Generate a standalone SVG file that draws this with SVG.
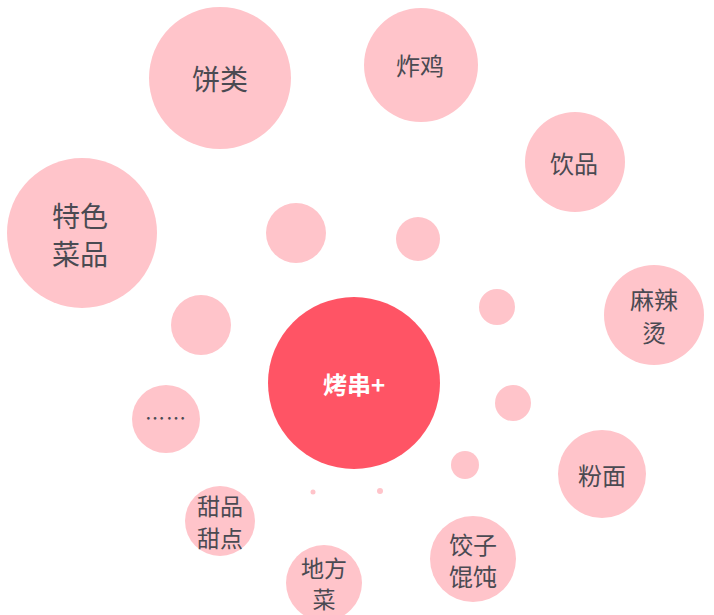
<svg xmlns="http://www.w3.org/2000/svg" width="714" height="615" viewBox="0 0 714 615">
<style>
.b{fill:#FFC4CA}
.m{fill:#FF5465}
.t{font-family:"Noto Sans CJK SC","Noto Sans",sans-serif;fill:#4a4a52;text-anchor:middle;dominant-baseline:central}
.w{font-family:"Noto Sans CJK SC","Noto Sans",sans-serif;fill:#ffffff;font-weight:bold;text-anchor:middle;dominant-baseline:central}
</style>
<rect width="714" height="615" fill="#ffffff"/>
<g id="connectors"/>
<g id="n-bing"><circle class="b" cx="220" cy="78" r="71"/><text class="t" x="220" y="78" font-size="28">饼类</text></g>
<g id="n-tese"><circle class="b" cx="82" cy="233" r="75"/><text class="t" x="80" y="215" font-size="28">特色</text><text class="t" x="80" y="253" font-size="28">菜品</text></g>
<g id="n-zhaji"><circle class="b" cx="421" cy="65" r="57"/><text class="t" x="420" y="64" font-size="24">炸鸡</text></g>
<g id="n-yinpin"><circle class="b" cx="575" cy="162" r="50"/><text class="t" x="574" y="162" font-size="24">饮品</text></g>
<g id="n-malatang"><circle class="b" cx="654" cy="315" r="50"/><text class="t" x="654" y="298" font-size="24">麻辣</text><text class="t" x="654" y="331" font-size="24">烫</text></g>
<g id="n-s1"><circle class="b" cx="296" cy="233" r="30"/></g>
<g id="n-s2"><circle class="b" cx="418" cy="239" r="22"/></g>
<g id="n-s3"><circle class="b" cx="497" cy="307" r="18"/></g>
<g id="n-s4"><circle class="b" cx="201" cy="325" r="30"/></g>
<g id="n-s5"><circle class="b" cx="513" cy="403" r="18"/></g>
<g id="n-s6"><circle class="b" cx="465" cy="465" r="14"/></g>
<g id="n-s7"><circle class="b" cx="313" cy="492" r="2.5"/></g>
<g id="n-s8"><circle class="b" cx="380" cy="491" r="3"/></g>
<g id="n-main"><circle class="m" cx="354" cy="383" r="86"/><text class="w" x="354" y="383" font-size="24">烤串+</text></g>
<g id="n-more"><circle class="b" cx="166" cy="419" r="34"/><text class="t" x="166" y="417" font-size="20" letter-spacing="1">……</text></g>
<g id="n-tianpin"><circle class="b" cx="220" cy="521" r="35"/><text class="t" x="220" y="505" font-size="23">甜品</text><text class="t" x="220" y="537" font-size="23">甜点</text></g>
<g id="n-difang"><circle class="b" cx="324" cy="583" r="38"/><text class="t" x="324" y="567" font-size="23">地方</text><text class="t" x="324" y="598" font-size="23">菜</text></g>
<g id="n-fenmian"><circle class="b" cx="602" cy="474" r="44"/><text class="t" x="602" y="474" font-size="24">粉面</text></g>
<g id="n-jiaozi"><circle class="b" cx="473" cy="559" r="43"/><text class="t" x="473" y="543" font-size="24">饺子</text><text class="t" x="473" y="575" font-size="24">馄饨</text></g>
</svg>
